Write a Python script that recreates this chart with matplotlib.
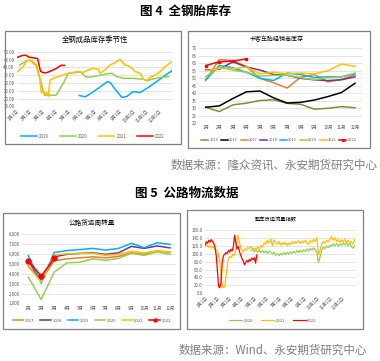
import numpy as np
import matplotlib
matplotlib.use("Agg")
import matplotlib.pyplot as plt
from matplotlib.patches import Rectangle

plt.rcParams['font.family'] = ['Noto Sans CJK SC', 'DejaVu Sans']

W, H = 380, 361

# colours per year
c15 = '#77933C'
c16 = '#000000'
c17 = '#ED7D31'
c18 = '#7030A0'
c19 = '#00B0F0'
c20 = '#92D050'
c21 = '#FFC000'
c22 = '#FF0000'

# ---- panel 1: 全钢成品库存季节性 (x = week of year)
p1_ticks = ['1月1日', '2月1日', '3月1日', '4月1日', '5月1日', '6月1日',
            '7月1日', '8月1日', '9月1日', '10月1日', '11月1日', '12月1日']
p1_wk19 = [21, 23, 25, 28, 30.5, 31.5, 33, 35.3, 37, 39, 41.4, 44, 47, 49.5, 52]
p1_v19 = [22, 21.2, 23.5, 27.5, 31, 30, 26, 20.8, 21.5, 24.5, 23.9, 27, 31, 34.5, 37.8]
p1_wk20 = [1, 3.4, 5, 6.7, 7.8, 9.3, 13.2, 15.7, 17.3, 19, 21.5, 23, 24.6, 26.8,
           30.2, 32, 33.5, 35.8, 39, 42.5, 43.6, 45.8, 48, 51]
p1_v20 = [41.5, 44.3, 44.3, 41.5, 33, 22.2, 22.2, 30, 36.2, 36.5, 37, 34, 33.7, 34.5,
          35.8, 36.2, 34.1, 33, 33, 32.4, 31.5, 32.6, 33.5, 34.1]
p1_wk21 = [0, 2, 3.4, 4.5, 5.5, 6.5, 7.8, 8.3, 8.9, 9.5, 10, 10.6, 11.2, 12.3, 14,
           15.7, 17.4, 19, 20.6, 22.4, 24, 25.7, 27.4, 28, 29.6, 31.3, 33, 34.7,
           36.3, 37.5, 38.6, 39.7, 41.4, 42.5, 43.6, 44.8, 46.5, 48.1, 49.8, 52]
p1_v21 = [36.8, 40, 44.3, 44.7, 42.6, 41, 32, 23.5, 25.6, 22.4, 23.9, 21.4, 32, 33,
          34.1, 35.2, 36.2, 36.8, 37.3, 36.8, 38.3, 39.4, 38.8, 36.2, 38.5, 41.5, 43,
          45.1, 41.5, 41, 39.4, 37.3, 36.2, 32.4, 31.5, 33.6, 35.2, 37.3, 40.5, 43.6]
p1_wk22 = [0, 1, 2, 3, 4, 5, 6, 7, 8, 9, 10, 11, 12, 13, 14, 15, 16]
p1_v22 = [46.2, 47.0, 47.6, 47.8, 46.6, 46.2, 46.0, 45.6, 37.5, 36.5, 36.6, 37.3,
          38.2, 39.0, 40.2, 41.4, 41.2]

# ---- panel 2: 卡客车胎经销商库存 (monthly)
months = ['1月', '2月', '3月', '4月', '5月', '6月', '7月', '8月', '9月', '10月', '11月', '12月']
p2_15 = [30.7, 27.8, 32.3, 33.4, 35.2, 35.7, 33.3, 32.7, 29.4, 30.0, 31.1, 30.4]
p2_16 = [30.7, 31.6, 36.5, 41.0, 41.5, 37.0, 33.5, 34.0, 35.5, 37.8, 40.5, 46.7]
p2_17 = [48.5, 62.5, 61.8, 57.8, 50.0, 47.0, 43.5, 50.8, 52.5, 47.5, 49.3, 52.3]
p2_18 = [55.5, 56.0, 61.0, 57.5, 55.5, 52.5, 52.0, 50.0, 49.0, 48.5, 49.0, 51.0]
p2_19 = [49.0, 58.5, 57.0, 54.0, 50.0, 48.5, 53.5, 52.5, 50.5, 51.0, 51.0, 53.0]
p2_20 = [51.0, 57.5, 55.5, 54.0, 51.5, 52.0, 52.0, 50.5, 49.0, 50.5, 51.0, 53.5]
p2_21 = [55.0, 56.5, 56.5, 57.5, 53.0, 54.0, 53.0, 53.5, 53.0, 55.0, 59.5, 58.0]
p2_22 = [58.5, 61.0, 61.5, 63.0]

# ---- panel 3: 公路货运周转量 (monthly)
p3_17 = [4800, 3400, 5300, 5500, 5600, 5700, 5600, 5750, 6100, 5950, 6300, 6150]
p3_18 = [5300, 3300, 5700, 5950, 6050, 6100, 5950, 6100, 6750, 6550, 6800, 6600]
p3_19 = [5800, 3050, 6130, 6330, 6430, 6550, 6380, 6550, 7060, 6620, 7120, 6960]
p3_20 = [3650, 1400, 4150, 5100, 5150, 5500, 5350, 5550, 6050, 5850, 6200, 5950]
p3_21 = [4700, 3150, 5900, 6000, 6050, 6050, 5850, 5950, 6250, 6100, 6300, 6200]
p3_22 = [5300, 3750, 5550]

# ---- panel 4: 整车货运流量指数 (day of year)
p4_ticks = p1_ticks
p4_tickdays = [0, 31, 59, 90, 120, 151, 181, 212, 243, 273, 304, 334]
p4_v21 = [118, 123, 116, 121, 114, 119, 112, 110, 101, 80, 30, 14, 18, 50, 84, 93,
          90, 99, 96, 118, 147, 128, 114, 104, 112, 108, 116, 113, 119, 111, 114, 108,
          117, 112, 121, 117, 128, 124, 134, 127, 137, 120, 135, 128, 124, 131, 122, 128,
          123, 129, 121, 127, 124, 130, 125, 131, 127, 133, 126, 132, 128, 134, 127, 124,
          133, 129, 136, 131, 140, 97, 110, 124, 131, 127, 134, 130, 137, 143, 134, 140,
          131, 136, 129, 135, 130, 137, 128, 134, 126, 131, 124, 136]
p4_v20 = [108, 112, 105, 110, 104, 109, 103, 108, 102, 107, 101, 106, 103, 99, 104, 96,
          100, 95, 101, 97, 103, 98, 104, 99, 105, 101, 106, 102, 108, 103, 109, 104,
          110, 106, 112, 107, 113, 109, 115, 110, 104, 78, 92, 110, 117, 113, 120, 115,
          122, 118, 125, 120, 126, 119, 125, 121, 127, 122, 128, 120, 125, 118, 114, 120]
p4_v22 = [122, 130, 126, 134, 129, 136, 131, 127, 118, 98, 60, 17, 14, 28, 80, 95,
          99, 103, 100, 108, 104, 111, 107, 118, 147, 128, 112, 118, 105, 96, 88, 82,
          72, 78, 83, 79, 86, 82, 89, 85, 90, 76, 97]
p4_d21 = [4 * i for i in range(len(p4_v21))]
p4_d20 = [112 + 4 * i for i in range(len(p4_v20))]
p4_d22 = [3 * i for i in range(len(p4_v22))]


def fbox(x0, y0, x1, y1):
    return [x0 / W, 1 - y1 / H, (x1 - x0) / W, (y1 - y0) / H]


def frame(fig, x0, y0, x1, y1):
    r = Rectangle((x0 / W, 1 - y1 / H), (x1 - x0) / W, (y1 - y0) / H,
                  transform=fig.transFigure, fill=False, edgecolor='#808080', lw=0.9)
    fig.add_artist(r)


def style(ax):
    for s in ax.spines.values():
        s.set_visible(False)
    ax.grid(axis='y', color='#d9d9d9', lw=0.5)
    ax.set_axisbelow(True)
    ax.tick_params(length=0, labelsize=3.2, colors='#595959', pad=1.5)


def ftext(fig, x, y, s, ha='center', **kw):
    fig.text(x / W, 1 - y / H, s, ha=ha, va='center', **kw)


fig = plt.figure(figsize=(3.8, 3.61), dpi=100)
fig.patch.set_facecolor('white')

ftext(fig, 186, 11, '图 4  全钢胎库存', fontsize=9, fontweight='bold')
ftext(fig, 378, 165, '数据来源：隆众资讯、永安期货研究中心', ha='right',
      fontsize=8.3, color='#7f7f7f')
ftext(fig, 187, 193, '图 5  公路物流数据', fontsize=9, fontweight='bold')
ftext(fig, 367, 350, '数据来源：Wind、永安期货研究中心', ha='right',
      fontsize=8.3, color='#7f7f7f')

# panel frames
frame(fig, 5, 31, 181, 144)
frame(fig, 188, 31, 370, 148)
frame(fig, 3, 213, 180, 329)
frame(fig, 187, 210, 363, 329)

lw = 1.1

# panel 1
ax1 = fig.add_axes(fbox(16.7, 51.7, 171.7, 106.5))
style(ax1)
ax1.plot(p1_wk19, p1_v19, color=c19, lw=lw, label='2019')
ax1.plot(p1_wk20, p1_v20, color=c20, lw=lw, label='2020')
ax1.plot(p1_wk21, p1_v21, color=c21, lw=lw, label='2021')
ax1.plot(p1_wk22, p1_v22, color=c22, lw=lw, label='2022')
ax1.set_ylim(15, 50)
ax1.set_yticks(np.arange(15, 51, 5))
ax1.set_yticklabels(['%.2f' % v for v in np.arange(15, 51, 5)])
ax1.set_xlim(0, 52)
ax1.set_xticks([i * 52 / 12 for i in range(12)])
ax1.set_xticklabels(p1_ticks, rotation=45, ha='right', rotation_mode='anchor')
ftext(fig, 95, 40, '全钢成品库存季节性', fontsize=5.3)
ax1.legend(loc='center', bbox_to_anchor=(93 / W, 1 - 136.5 / H), bbox_transform=fig.transFigure,
           ncol=4, fontsize=3.2, frameon=False, handlelength=3.5, columnspacing=2.5,
           handletextpad=0.5, labelcolor='#595959')

# panel 2
ax2 = fig.add_axes(fbox(198.9, 48.3, 361.8, 123.3))
style(ax2)
x12 = np.arange(1, 13)
ax2.plot(x12, p2_15, color=c15, lw=lw, label='2015')
ax2.plot(x12, p2_16, color=c16, lw=lw, label='2016')
ax2.plot(x12, p2_17, color=c17, lw=lw, label='2017')
ax2.plot(x12, p2_18, color=c18, lw=lw, label='2018')
ax2.plot(x12, p2_19, color=c19, lw=lw, label='2019')
ax2.plot(x12, p2_20, color=c20, lw=lw, label='2020')
ax2.plot(x12, p2_21, color=c21, lw=lw, label='2021')
ax2.plot(x12[:len(p2_22)], p2_22, color=c22, lw=lw, marker='s', ms=2, label='2022')
ax2.set_ylim(20, 70)
ax2.set_yticks(np.arange(20, 71, 5))
ax2.set_xlim(0.5, 12.5)
ax2.set_xticks(x12)
ax2.set_xticklabels(months)
ftext(fig, 277, 39, '卡客车胎经销商库存', fontsize=4.3)
ax2.legend(loc='center', bbox_to_anchor=(279 / W, 1 - 140 / H), bbox_transform=fig.transFigure,
           ncol=8, fontsize=2.8, frameon=False, handlelength=1.8, columnspacing=0.7,
           handletextpad=0.3, labelcolor='#595959', markerscale=0.6)

# panel 3
ax3 = fig.add_axes(fbox(21.9, 234, 176.4, 303.5))
style(ax3)
ax3.plot(x12, p3_17, color=c17, lw=lw, label='2017')
ax3.plot(x12, p3_18, color=c18, lw=lw, label='2018')
ax3.plot(x12, p3_19, color=c19, lw=lw, label='2019')
ax3.plot(x12, p3_20, color=c20, lw=lw, label='2020')
ax3.plot(x12, p3_21, color=c21, lw=lw, label='2021')
ax3.plot(x12[:len(p3_22)], p3_22, color=c22, lw=lw, marker='o', ms=3.5, label='2022')
ax3.set_ylim(1000, 8000)
ax3.set_yticks(np.arange(1000, 8001, 1000))
ax3.set_yticklabels(['{:,}'.format(v) for v in range(1000, 8001, 1000)])
ax3.set_xlim(0.5, 12.5)
ax3.set_xticks(x12)
ax3.set_xticklabels(months)
ftext(fig, 92, 223, '公路货运周转量', fontsize=4.8)
ax3.legend(loc='center', bbox_to_anchor=(92 / W, 1 - 320.5 / H), bbox_transform=fig.transFigure,
           ncol=6, fontsize=3.0, frameon=False, handlelength=2.5, columnspacing=1.4,
           handletextpad=0.4, labelcolor='#595959', markerscale=0.6)

# panel 4
ax4 = fig.add_axes(fbox(205, 230, 355, 293.3))
style(ax4)
ax4.plot(p4_d20, p4_v20, color=c20, lw=0.9, label='2020')
ax4.plot(p4_d21, p4_v21, color=c21, lw=0.9, label='2021')
ax4.plot(p4_d22, p4_v22, color=c22, lw=0.9, label='2022')
ax4.set_ylim(0, 160)
ax4.set_yticks(np.arange(0, 161, 20))
ax4.set_yticklabels(['%.1f' % v for v in np.arange(0, 161, 20)])
ax4.set_xlim(0, 365)
ax4.set_xticks(p4_tickdays)
ax4.set_xticklabels(p4_ticks, rotation=45, ha='right', rotation_mode='anchor')
ftext(fig, 276, 220, '整车货运流量指数', fontsize=3.8)
ax4.legend(loc='center', bbox_to_anchor=(273 / W, 1 - 320.5 / H), bbox_transform=fig.transFigure,
           ncol=3, fontsize=3.0, frameon=False, handlelength=3.0, columnspacing=2.0,
           handletextpad=0.4, labelcolor='#595959')

fig.savefig('out.png', dpi=100, facecolor='white')
